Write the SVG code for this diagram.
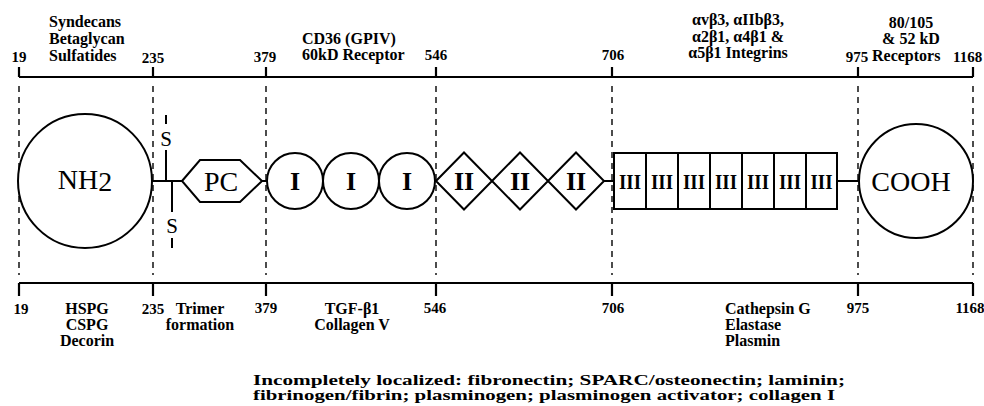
<svg xmlns="http://www.w3.org/2000/svg" width="984" height="406" viewBox="0 0 984 406">
<style>
text{font-family:"Liberation Serif","Times New Roman",serif;fill:#000}
.lbl{font-size:16px;font-weight:bold}
.tk{font-size:15px;font-weight:bold}
.mid{text-anchor:middle}
.dom{font-size:26px;font-weight:bold;text-anchor:middle}
.d3{font-size:21px;font-weight:bold;text-anchor:middle}
.big{font-size:28px;text-anchor:middle}
.shape{fill:#fff;stroke:#000;stroke-width:2}
.axis{stroke:#000;stroke-width:2.2;fill:none}
.dash{stroke:#000;stroke-width:1.4;stroke-dasharray:6 5;fill:none}
.link{stroke:#000;stroke-width:2;fill:none}
.foot{font-size:14px;font-weight:bold}
</style>
<rect width="984" height="406" fill="#fff"/>

<g id="axes">
  <line class="axis" x1="19" y1="77" x2="973" y2="77"/>
  <line class="axis" x1="19" y1="283" x2="973" y2="283"/>
  <path class="axis" d="M19 67V77M153 67V77M266 67V77M436 67V77M612 67V77M858 67V77M973 67V77"/>
  <path class="axis" d="M19 283V296M153 283V296M266 283V296M436 283V296M612 283V296M858 283V296M973 283V296"/>
  <path class="dash" d="M19 86V275M153 86V275M266 86V275M436 86V275M612 86V275M858 86V275M973 86V275"/>
</g>

<g id="top-labels">
  <text class="lbl" x="49" y="27">Syndecans</text>
  <text class="lbl" x="49" y="44">Betaglycan</text>
  <text class="lbl" x="49" y="61">Sulfatides</text>
  <text class="lbl" x="302" y="44">CD36 (GPIV)</text>
  <text class="lbl" x="302" y="60">60kD Receptor</text>
  <text class="lbl mid" x="738" y="25">αvβ3, αIIbβ3,</text>
  <text class="lbl mid" x="738" y="42">α2β1, α4β1 &amp;</text>
  <text class="lbl mid" x="738" y="58">α5β1 Integrins</text>
  <text class="lbl mid" x="911" y="28">80/105</text>
  <text class="lbl mid" x="911" y="44">&amp; 52 kD</text>
  <text class="lbl" x="872" y="61">Receptors</text>
  <text class="tk mid" x="19" y="62">19</text>
  <text class="tk mid" x="153" y="63">235</text>
  <text class="tk mid" x="265" y="62">379</text>
  <text class="tk mid" x="436" y="60">546</text>
  <text class="tk mid" x="613" y="60">706</text>
  <text class="tk mid" x="857" y="62">975</text>
  <text class="tk" x="953" y="62">1168</text>
</g>

<g id="bottom-labels">
  <text class="tk mid" x="21" y="314">19</text>
  <text class="lbl mid" x="87" y="314">HSPG</text>
  <text class="lbl mid" x="87" y="330">CSPG</text>
  <text class="lbl mid" x="87" y="346">Decorin</text>
  <text class="tk mid" x="153" y="314">235</text>
  <text class="lbl mid" x="200" y="314">Trimer</text>
  <text class="lbl mid" x="200" y="330">formation</text>
  <text class="tk mid" x="266" y="313">379</text>
  <text class="lbl mid" x="352" y="314">TGF-β1</text>
  <text class="lbl mid" x="352" y="330">Collagen V</text>
  <text class="tk mid" x="435" y="313">546</text>
  <text class="tk mid" x="613" y="313">706</text>
  <text class="lbl" x="725" y="314">Cathepsin G</text>
  <text class="lbl" x="725" y="330">Elastase</text>
  <text class="lbl" x="725" y="346">Plasmin</text>
  <text class="tk mid" x="858" y="313">975</text>
  <text class="tk mid" x="970" y="313">1168</text>
</g>

<g id="connectors">
  <line class="link" x1="152" y1="181" x2="182" y2="181"/>
  <line class="link" x1="166" y1="150" x2="166" y2="181"/>
  <line class="link" x1="172" y1="181" x2="172" y2="212"/>
  <line class="link" x1="166" y1="115" x2="166" y2="124"/>
  <line class="link" x1="172" y1="238" x2="172" y2="248"/>
  <line class="link" x1="262" y1="181" x2="267" y2="181"/>
  <line class="link" x1="604" y1="181" x2="614" y2="181"/>
  <line class="link" x1="837" y1="181" x2="859" y2="181"/>
</g>

<g id="ss-bond">
  <text class="mid" x="166" y="146" style="font-size:21px">S</text>
  <text class="mid" x="172" y="233" style="font-size:21px">S</text>
</g>

<g id="nh2">
  <circle class="shape" cx="85" cy="181" r="67"/>
  <text class="big" x="85" y="189">NH<tspan dy="2">2</tspan></text>
</g>

<g id="pc">
  <polygon class="shape" points="182,181 200,160 240,160 262,181 240,202 200,202"/>
  <text class="big" x="221" y="191">PC</text>
</g>

<g id="type1">
  <circle class="shape" cx="295" cy="181" r="28"/>
  <circle class="shape" cx="351" cy="181" r="28"/>
  <circle class="shape" cx="407" cy="181" r="28"/>
  <text class="dom" x="295" y="190">I</text>
  <text class="dom" x="351" y="190">I</text>
  <text class="dom" x="407" y="190">I</text>
</g>

<g id="type2">
  <polygon class="shape" points="436,181 464,152.5 492,181 464,209.5"/>
  <polygon class="shape" points="492,181 520,152.5 548,181 520,209.5"/>
  <polygon class="shape" points="548,181 576,152.5 604,181 576,209.5"/>
  <text class="dom" x="464" y="190">II</text>
  <text class="dom" x="520" y="190">II</text>
  <text class="dom" x="576" y="190">II</text>
</g>

<g id="type3">
  <rect class="shape" x="614" y="153" width="223" height="56"/>
  <path class="link" d="M646 153V209M678 153V209M710 153V209M742 153V209M774 153V209M806 153V209"/>
  <text class="d3" x="630" y="189" textLength="22" lengthAdjust="spacingAndGlyphs">III</text>
  <text class="d3" x="662" y="189" textLength="22" lengthAdjust="spacingAndGlyphs">III</text>
  <text class="d3" x="694" y="189" textLength="22" lengthAdjust="spacingAndGlyphs">III</text>
  <text class="d3" x="726" y="189" textLength="22" lengthAdjust="spacingAndGlyphs">III</text>
  <text class="d3" x="758" y="189" textLength="22" lengthAdjust="spacingAndGlyphs">III</text>
  <text class="d3" x="790" y="189" textLength="22" lengthAdjust="spacingAndGlyphs">III</text>
  <text class="d3" x="821.5" y="189" textLength="22" lengthAdjust="spacingAndGlyphs">III</text>
</g>

<g id="cooh">
  <circle class="shape" cx="916" cy="181" r="57"/>
  <text class="big" x="911" y="191">COOH</text>
</g>

<g id="footnote">
  <text class="foot" x="253" y="385" textLength="592" lengthAdjust="spacingAndGlyphs">Incompletely localized:  fibronectin; SPARC/osteonectin; laminin;</text>
  <text class="foot" x="253" y="400" textLength="582" lengthAdjust="spacingAndGlyphs">fibrinogen/fibrin; plasminogen; plasminogen activator; collagen I</text>
</g>
</svg>
